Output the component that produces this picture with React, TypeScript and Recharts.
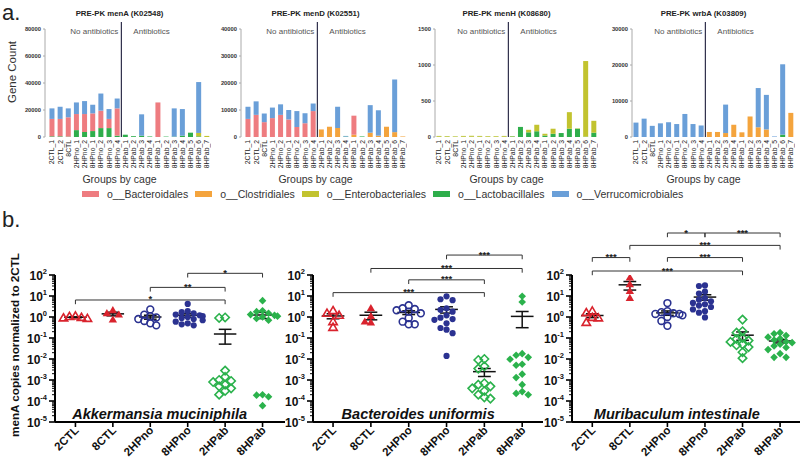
import React from 'react';
import { BarChart, Bar, XAxis, YAxis, ReferenceLine, ReferenceDot, ScatterChart, Scatter } from 'recharts';

const FONT = '"Liberation Sans", Arial, Helvetica, sans-serif';

// ---------- Part a data ----------
const cages = ['2CTL_1','2CTL_2','8CTL','2HPno_1','2HPno_2','8HPno_1','8HPno_2','8HPno_3','8HPno_4','2HPab_1','2HPab_2','2HPab_3','2HPab_4','8HPab_1','8HPab_2','8HPab_3','8HPab_4','8HPab_5','8HPab_6','8HPab_7'];
const taxa = ['o__Bacteroidales','o__Clostridiales','o__Enterobacteriales','o__Lactobacillales','o__Verrucomicrobiales'];

const menA_lacto  = [500,500,300,5100,3700,4400,6600,6600,1000,1700,600,1000,400,0,300,300,1000,3200,500,0];
const menA_clost  = [0,0,0,0,0,0,0,0,0,0,0,0,0,0,0,0,0,0,0,0];
const menA_entero = [0,0,0,0,0,0,0,0,0,0,0,0,0,0,0,0,0,0,2500,800];
const menA_bact   = [12900,12900,14300,11900,13300,13100,12900,6800,20200,0,0,0,0,25600,0,0,0,0,0,0];
const menA_verr   = [7800,9000,6600,8600,9600,6400,12700,7300,7300,0,0,15800,0,0,0,20900,19700,0,37700,0];

const menD_lacto  = [0,0,0,0,0,0,0,0,0,0,0,0,150,0,200,0,0,0,0,0];
const menD_clost  = [0,0,0,0,0,0,0,0,0,2800,3800,3300,0,850,0,1600,500,3800,1800,200];
const menD_entero = [0,0,0,0,0,0,0,0,0,0,0,0,0,0,0,0,0,0,0,0];
const menD_bact   = [6700,8200,5500,7000,8200,6500,3700,5100,9600,0,0,0,0,7050,0,0,0,0,0,0];
const menD_verr   = [4500,5000,3200,3900,3900,3500,5900,3700,2800,0,0,7900,250,0,0,10200,9400,0,19500,0];

const menH_lacto  = [3,3,2,3,3,3,2,2,3,8,140,65,80,20,45,55,115,115,5,60];
const menH_clost  = [0,0,0,0,0,0,0,0,0,0,0,0,0,0,0,0,0,0,0,0];
const menH_entero = [12,10,8,12,14,12,10,10,12,5,0,35,90,25,70,0,230,5,1050,165];
const menH_bact   = [0,0,0,0,0,0,0,0,0,0,0,0,0,0,0,0,0,0,0,0];
const menH_verr   = [0,0,0,0,0,0,0,0,0,0,0,0,0,0,0,0,0,0,0,0];

const wrbA_lacto  = [0,0,0,0,0,0,0,0,0,0,0,0,0,0,0,0,0,0,650,0];
const wrbA_clost  = [0,0,0,0,0,0,0,0,0,1400,1400,1100,3400,1300,5700,2700,2100,0,0,6700];
const wrbA_entero = [0,0,0,0,0,0,0,0,0,0,0,0,0,0,0,0,0,0,0,0];
const wrbA_bact   = [0,0,0,0,0,0,0,0,0,0,0,0,0,0,0,0,0,0,0,0];
const wrbA_verr   = [4000,5100,3100,3800,4100,3600,6400,3600,3200,0,0,7900,0,0,0,10900,9600,150,19550,0];

const menA_ticks = [0,20000,40000,60000,80000];
const menD_ticks = [0,10000,20000,30000,40000];
const menH_ticks = [0,500,1000,1500];
const wrbA_ticks = [0,10000,20000,30000];

// ---------- Part b data ----------
const groupNames = ['2CTL','8CTL','2HPno','8HPno','2HPab','8HPab'];

const akk_2CTL  = [1.05,0.95,0.9,0.85,1.1];
const akk_8CTL  = [2.1,1.5,1.3,0.75];
const akk_2HPno = [2.3,1.3,1.1,0.95,0.8,0.65,0.5,0.4];
const akk_8HPno = [4.2,1.9,1.7,1.5,1.3,1.2,1.1,1.0,0.9,0.8,0.7,0.6,0.5,0.45,0.4];
const akk_2HPab = [0.95,0.9,0.0028,0.0014,0.001,0.0009,0.0008,0.0006,0.0005,0.0004,0.0003,0.0002];
const akk_8HPab = [6.0,2.0,1.8,1.5,1.3,1.2,1.1,1.0,0.85,0.7,0.0002,0.00019,0.00016,0.00006];

const bac_2CTL  = [2.0,1.5,1.2,0.6,0.32];
const bac_8CTL  = [2.6,1.1,0.6,0.55];
const bac_2HPno = [3.6,2.6,2.4,2.1,1.8,1.5,0.9,0.6,0.45,0.45];
const bac_8HPno = [9.7,7.0,6.3,2.6,2.2,1.8,1.2,0.93,0.8,0.73,0.5,0.3,0.25,0.17,0.014];
const bac_2HPab = [0.01,0.009,0.0045,0.0035,0.0007,0.0006,0.0005,0.0004,0.0003,0.0002,0.00015,0.00013];
const bac_8HPab = [9.7,5.2,0.018,0.015,0.012,0.0097,0.0056,0.005,0.0019,0.0013,0.0006,0.00028,0.00023,0.0002];

const mur_2CTL  = [1.9,1.6,0.95,0.9,0.55];
const mur_8CTL  = [75,36,17,8];
const mur_2HPno = [4.6,1.9,1.7,1.5,1.4,1.4,1.2,1.0,0.65,0.38];
const mur_8HPno = [32,30,16,13,8,6.7,5.6,4.7,4.0,3.5,3.0,2.3,1.9,1.6,0.95];
const mur_2HPab = [0.75,0.21,0.18,0.1,0.09,0.075,0.065,0.05,0.045,0.037,0.021,0.011];
const mur_8HPab = [0.18,0.16,0.13,0.11,0.095,0.08,0.067,0.06,0.05,0.042,0.035,0.028,0.018,0.012,0.012];

// significance brackets: [from group, to group, log10 level, label]
const akk_sig: [number, number, number, string][] = [[3,5,2.08,'*'],[2,4,1.41,'**'],[0,4,0.81,'*']];
const bac_sig: [number, number, number, string][] = [[3,5,2.95,'***'],[1,5,2.31,'***'],[2,4,1.77,'***'],[0,4,1.16,'***']];
const mur_sig: [number, number, number, string][] = [[2,3,4.0,'*'],[3,5,4.0,'***'],[1,5,3.41,'***'],[0,1,2.83,'***'],[2,4,2.83,'***'],[0,4,2.19,'***']];

// ---------- styling ----------
const C_BACT = '#EE7C80';
const C_CLOST = '#F4A43D';
const C_ENTERO = '#C2C32F';
const C_LACTO = '#2EAE4B';
const C_VERR = '#6A9FD8';
const taxaColors = [C_BACT, C_CLOST, C_ENTERO, C_LACTO, C_VERR];

const RED = '#D9232D';
const NAVY = '#2B3291';
const GREEN = '#2BB24C';
const groupStyle = [
  { kind: 'triOpen', color: RED },
  { kind: 'triFill', color: RED },
  { kind: 'cirOpen', color: NAVY },
  { kind: 'cirFill', color: NAVY },
  { kind: 'diaOpen', color: GREEN },
  { kind: 'diaFill', color: GREEN },
];

const BAR_PLOT_W = 163;

function buildBarData(l: number[], c: number[], e: number[], b: number[], v: number[]) {
  return cages.map((cage, i) => ({ cage, lacto: l[i], clost: c[i], entero: e[i], bact: b[i], verr: v[i] }));
}

const barPanels = [
  { title: 'PRE-PK menA (K02548)', ax: 45, pad: 3, ticks: menA_ticks, data: buildBarData(menA_lacto, menA_clost, menA_entero, menA_bact, menA_verr) },
  { title: 'PRE-PK menD (K02551)', ax: 241, pad: 3, ticks: menD_ticks, data: buildBarData(menD_lacto, menD_clost, menD_entero, menD_bact, menD_verr) },
  { title: 'PRE-PK menH (K08680)', ax: 435, pad: 0, ticks: menH_ticks, data: buildBarData(menH_lacto, menH_clost, menH_entero, menH_bact, menH_verr) },
  { title: 'PRE-PK wrbA (K03809)', ax: 632, pad: 0, ticks: wrbA_ticks, data: buildBarData(wrbA_lacto, wrbA_clost, wrbA_entero, wrbA_bact, wrbA_verr) },
];

const CageTick = (props: any) => {
  const { x, y, payload } = props;
  const tx = x + 2.4;
  const ty = y + 3;
  return (
    <text x={tx} y={ty} transform={`rotate(-90, ${tx}, ${ty})`} textAnchor="end" fontSize={6.8} fill="#222">
      {payload.value}
    </text>
  );
};

const Txt = ({ x, y, children, size = 10, weight = 400, anchor = 'middle', rotate = 0, color = '#222', italic = false }: any) => {
  const tx = anchor === 'middle' ? '-50%' : anchor === 'end' ? '-100%' : '0%';
  return (
    <div style={{
      position: 'absolute', left: x, top: y, whiteSpace: 'nowrap', lineHeight: 1,
      fontSize: size, fontWeight: weight, color, fontStyle: italic ? 'italic' : 'normal',
      transform: `translate(${tx}, -50%) rotate(${rotate}deg)`, transformOrigin: anchor === 'middle' ? 'center' : 'left center',
    }}>{children}</div>
  );
};

const BarPanel = ({ p }: any) => {
  const top = p.ticks[p.ticks.length - 1];
  const width = 30 + p.pad + BAR_PLOT_W;
  return (
    <div style={{ position: 'absolute', left: p.ax - 30, top: 0 }}>
      <BarChart width={width} height={172} data={p.data} margin={{ top: 29, right: 0, left: 0, bottom: 0 }} barCategoryGap="18%">
        <XAxis dataKey="cage" interval={0} height={35} axisLine={false} tickLine={false} tickSize={0} tickMargin={0}
          padding={{ left: p.pad, right: 0 }} tick={<CageTick />} />
        <YAxis width={30} domain={[0, top]} ticks={p.ticks} interval={0} allowDataOverflow
          tick={{ fontSize: 5.8, fontWeight: 700, fill: '#333' }} axisLine={{ stroke: '#aaa' }} tickLine={{ stroke: '#aaa' }} tickSize={2} tickMargin={2} />
        <Bar dataKey="lacto" stackId="s" fill={C_LACTO} isAnimationActive={false} />
        <Bar dataKey="clost" stackId="s" fill={C_CLOST} isAnimationActive={false} />
        <Bar dataKey="entero" stackId="s" fill={C_ENTERO} isAnimationActive={false} />
        <Bar dataKey="bact" stackId="s" fill={C_BACT} isAnimationActive={false} />
        <Bar dataKey="verr" stackId="s" fill={C_VERR} isAnimationActive={false} />
        <ReferenceLine segment={[{ x: '2HPab_1', y: 0 }, { x: '2HPab_1', y: top * 1.065 }]} position="start"
          ifOverflow="visible" stroke="#1c1c3a" strokeWidth={1.1} />
      </BarChart>
    </div>
  );
};

// ---------- scatter helpers ----------
function swarm(vals: number[], gi: number) {
  const offs = [0, -0.16, 0.16, -0.32, 0.32, -0.08, 0.08, -0.24, 0.24, -0.4, 0.4];
  const sorted = [...vals].sort((a, b) => b - a);
  const placed: { dx: number; l: number }[] = [];
  return sorted.map((v) => {
    const l = Math.log10(v);
    let dx = offs[offs.length - 1];
    for (const o of offs) {
      if (placed.every((p) => Math.abs(p.dx - o) >= 0.15 || Math.abs(p.l - l) >= 0.27)) { dx = o; break; }
    }
    placed.push({ dx, l });
    return { x: gi + dx, y: v };
  });
}

function stats(vals: number[]) {
  const n = vals.length;
  const m = vals.reduce((a, b) => a + b, 0) / n;
  const sd = Math.sqrt(vals.reduce((a, b) => a + (b - m) * (b - m), 0) / (n - 1));
  return { m, se: sd / Math.sqrt(n) };
}

const Marker = ({ kind, cx, cy, color }: any) => {
  if (cx == null || cy == null) return null;
  const t = 4.2;
  switch (kind) {
    case 'triOpen':
      return <polygon points={`${cx},${cy - t} ${cx + t},${cy + t * 0.7} ${cx - t},${cy + t * 0.7}`} fill="none" stroke={color} strokeWidth={1.6} />;
    case 'triFill':
      return <polygon points={`${cx},${cy - t} ${cx + t},${cy + t * 0.7} ${cx - t},${cy + t * 0.7}`} fill={color} />;
    case 'cirOpen':
      return <circle cx={cx} cy={cy} r={3.4} fill="none" stroke={color} strokeWidth={1.6} />;
    case 'cirFill':
      return <circle cx={cx} cy={cy} r={3.1} fill={color} />;
    case 'diaOpen':
      return <polygon points={`${cx},${cy - 4.2} ${cx + 4.2},${cy} ${cx},${cy + 4.2} ${cx - 4.2},${cy}`} fill="none" stroke={color} strokeWidth={1.6} />;
    default:
      return <polygon points={`${cx},${cy - 3.8} ${cx + 3.8},${cy} ${cx},${cy + 3.8} ${cx - 3.8},${cy}`} fill={color} />;
  }
};

const logTicks: number[] = [];
for (let e = -5; e <= 1; e++) for (let m = 1; m <= 9; m++) logTicks.push(Number((m * Math.pow(10, e)).toPrecision(3)));
logTicks.push(100);

const LogTick = (props: any) => {
  const { x, y, payload } = props;
  const lv = Math.log10(payload.value);
  const e = Math.round(lv);
  const major = Math.abs(lv - e) < 1e-6;
  return (
    <g>
      <line x1={x} x2={x - (major ? 6 : 3)} y1={y} y2={y} stroke="#000" strokeWidth={major ? 1.6 : 1} />
      {major && (
        <text x={x - 8} y={y + 4.5} textAnchor="end" fontSize={12} fontWeight={700} fill="#111">
          10<tspan dy={-5.5} fontSize={7.5}>{String(e)}</tspan>
        </text>
      )}
    </g>
  );
};

const CatTick = (props: any) => {
  const { x, y, payload } = props;
  const tx = x + 4;
  const ty = y + 9;
  return (
    <g>
      <line x1={x} x2={x} y1={y} y2={y + 5} stroke="#000" strokeWidth={1.6} />
      <text x={tx} y={ty} transform={`rotate(-45, ${tx}, ${ty})`} textAnchor="end" fontSize={11.5} fontWeight={700} fill="#111">
        {groupNames[payload.value]}
      </text>
    </g>
  );
};

const scatterPanels = [
  { left: 0, width: 285, domain: [-0.546, 5.6], groups: [akk_2CTL, akk_8CTL, akk_2HPno, akk_8HPno, akk_2HPab, akk_8HPab], sig: akk_sig, species: 'Akkermansia muciniphila' },
  { left: 258, width: 285, domain: [-0.53, 5.55], groups: [bac_2CTL, bac_8CTL, bac_2HPno, bac_8HPno, bac_2HPab, bac_8HPab], sig: bac_sig, species: 'Bacteroides uniformis' },
  { left: 517, width: 283, domain: [-0.54, 5.53], groups: [mur_2CTL, mur_8CTL, mur_2HPno, mur_8HPno, mur_2HPab, mur_8HPab], sig: mur_sig, species: 'Muribaculum intestinale' },
];

const ScatterPanel = ({ p }: any) => {
  const lines: any[] = [];
  p.groups.forEach((vals: number[], gi: number) => {
    const { m, se } = stats(vals);
    const lo = Math.max(m - se, 1e-5);
    const hi = m + se;
    lines.push([{ x: gi - 0.3, y: m }, { x: gi + 0.3, y: m }]);
    lines.push([{ x: gi, y: lo }, { x: gi, y: hi }]);
    lines.push([{ x: gi - 0.17, y: lo }, { x: gi + 0.17, y: lo }]);
    lines.push([{ x: gi - 0.17, y: hi }, { x: gi + 0.17, y: hi }]);
  });
  const brackets: any[] = [];
  p.sig.forEach(([a, b, lvl]: any) => {
    const y = Math.pow(10, lvl);
    const yt = Math.pow(10, lvl - 0.2);
    brackets.push([{ x: a, y }, { x: b, y }]);
    brackets.push([{ x: a, y }, { x: a, y: yt }]);
    brackets.push([{ x: b, y }, { x: b, y: yt }]);
  });
  return (
    <div style={{ position: 'absolute', left: p.left, top: 218 }}>
      <ScatterChart width={p.width} height={248} margin={{ top: 57, right: 0, bottom: 0, left: 0 }}>
        <XAxis type="number" dataKey="x" domain={p.domain} ticks={[0, 1, 2, 3, 4, 5]} interval={0} allowDataOverflow height={44}
          tickLine={false} tickSize={0} tickMargin={0} axisLine={{ stroke: '#000', strokeWidth: 2 }} tick={<CatTick />} />
        <YAxis type="number" dataKey="y" scale="log" domain={[1e-5, 100]} allowDataOverflow ticks={logTicks} interval={0} width={55}
          tickLine={false} tickSize={0} tickMargin={0} axisLine={{ stroke: '#000', strokeWidth: 2 }} tick={<LogTick />} />
        {p.groups.map((vals: number[], gi: number) => (
          <Scatter key={gi} data={swarm(vals, gi)} isAnimationActive={false}
            shape={(sp: any) => <Marker kind={groupStyle[gi].kind} color={groupStyle[gi].color} cx={sp.cx} cy={sp.cy} />} />
        ))}
        {lines.map((seg, i) => (
          <ReferenceLine key={'m' + i} segment={seg} ifOverflow="visible" stroke="#111" strokeWidth={1.5} />
        ))}
        {brackets.map((seg, i) => (
          <ReferenceLine key={'b' + i} segment={seg} ifOverflow="visible" stroke="#333" strokeWidth={1} />
        ))}
        {p.sig.map(([a, b, lvl, label]: any, i: number) => (
          <ReferenceDot key={'s' + i} x={(a + b) / 2} y={Math.pow(10, lvl)} r={0} ifOverflow="visible"
            shape={(dp: any) => <text x={dp.cx} y={dp.cy + 2.5} textAnchor="middle" fontSize={9.5} fontWeight={700} fill="#222">{label}</text>} />
        ))}
        <ReferenceDot x={2.25} y={Math.pow(10, -4.85)} r={0} ifOverflow="visible"
          shape={(dp: any) => <text x={dp.cx} y={dp.cy} textAnchor="middle" fontSize={14.5} fontWeight={700} fontStyle="italic" fill="#111">{p.species}</text>} />
      </ScatterChart>
    </div>
  );
};

export default function App() {
  return (
    <div style={{ position: 'absolute', left: 0, top: 0, width: 800, height: 466, background: '#fff', fontFamily: FONT, overflow: 'hidden' }}>
      <Txt x={2} y={13} size={22} anchor="start">a.</Txt>
      <Txt x={2} y={220} size={22} anchor="start">b.</Txt>

      {barPanels.map((p, i) => {
        const center = p.ax + p.pad + BAR_PLOT_W / 2 - 10;
        const divider = p.ax + p.pad + (9 * BAR_PLOT_W) / 20;
        return (
          <React.Fragment key={i}>
            <BarPanel p={p} />
            <Txt x={center} y={14} size={7.8} weight={700}>{p.title}</Txt>
            <Txt x={divider - 3} y={32} size={8} anchor="end" color="#555">No antibiotics</Txt>
            <Txt x={divider + 12} y={32} size={8} anchor="start" color="#555">Antibiotics</Txt>
            <Txt x={center} y={179} size={10.5} color="#333">Groups by cage</Txt>
          </React.Fragment>
        );
      })}

      <Txt x={13} y={72} size={11.5} rotate={-90} color="#333">Gene Count</Txt>

      <div style={{ position: 'absolute', left: 82, top: 188, display: 'flex', alignItems: 'center', fontSize: 10.5, color: '#333', whiteSpace: 'nowrap' }}>
        {taxa.map((t, i) => (
          <div key={t} style={{ display: 'flex', alignItems: 'center', marginRight: 7 }}>
            <div style={{ width: 17, height: 6, background: taxaColors[i], marginRight: 8 }} />
            <span>{t}</span>
          </div>
        ))}
      </div>

      {scatterPanels.map((p, i) => <ScatterPanel key={i} p={p} />)}

      <Txt x={15} y={345} size={11.7} weight={700} rotate={-90} color="#111">menA copies normalized to 2CTL</Txt>
    </div>
  );
}
